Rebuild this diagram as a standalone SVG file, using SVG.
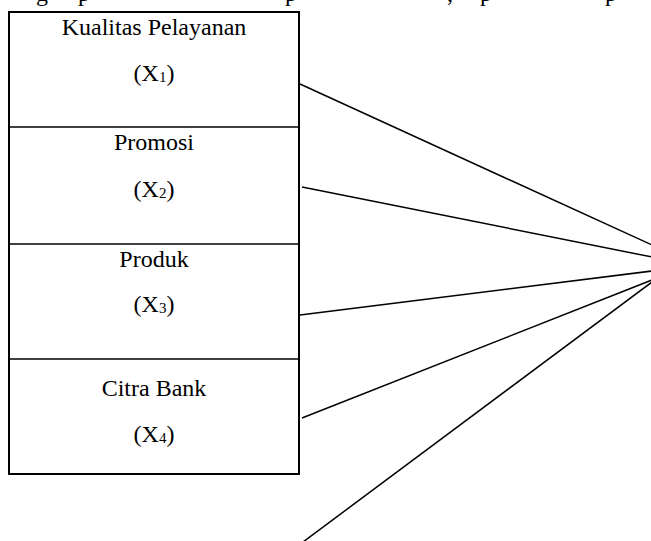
<svg xmlns="http://www.w3.org/2000/svg" width="651" height="541" viewBox="0 0 651 541">
<style>
text{font-family:"Liberation Serif","Times New Roman",serif;font-size:24px;fill:#000}
.c{text-anchor:middle}
.sub{font-size:15px}
.box{fill:#fff;stroke:#000;stroke-width:2}
.div{stroke:#000;stroke-width:1.5}
.ln{stroke:#000;stroke-width:1.5;fill:none}
</style>
<rect width="651" height="541" fill="#fff"/>
<g id="clipped-text">
<text x="36" y="1">g</text>
<text x="78" y="1">p</text>
<text x="285" y="1">p</text>
<text x="447" y="1">,</text>
<text x="480" y="1">p</text>
<text x="605" y="1">p</text>
</g>
<g id="frame">
<rect class="box" x="9" y="12" width="290" height="462"/>
</g>
<g id="x1">
<text class="c" x="154" y="35">Kualitas Pelayanan</text>
<text class="c" x="154" y="81">(X<tspan class="sub" dy="1">1</tspan><tspan dy="-1">)</tspan></text>
</g>
<g id="x2">
<line class="div" x1="9" y1="127" x2="299" y2="127" stroke-width="1"/>
<text class="c" x="154" y="150">Promosi</text>
<text class="c" x="154" y="197">(X<tspan class="sub" dy="1">2</tspan><tspan dy="-1">)</tspan></text>
</g>
<g id="x3">
<line class="div" x1="9" y1="244" x2="299" y2="244"/>
<text class="c" x="154" y="267">Produk</text>
<text class="c" x="154" y="312">(X<tspan class="sub" dy="1">3</tspan><tspan dy="-1">)</tspan></text>
</g>
<g id="x4">
<line class="div" x1="9" y1="359" x2="299" y2="359"/>
<text class="c" x="154" y="396">Citra Bank</text>
<text class="c" x="154" y="442">(X<tspan class="sub" dy="1">4</tspan><tspan dy="-1">)</tspan></text>
</g>
<g id="connectors">
<line class="ln" x1="300" y1="84" x2="652" y2="245"/>
<line class="ln" x1="302" y1="187" x2="652" y2="257"/>
<line class="ln" x1="300" y1="315" x2="652" y2="271"/>
<line class="ln" x1="302" y1="418" x2="652" y2="280"/>
<line class="ln" x1="303" y1="542" x2="652" y2="282"/>
</g>
</svg>
